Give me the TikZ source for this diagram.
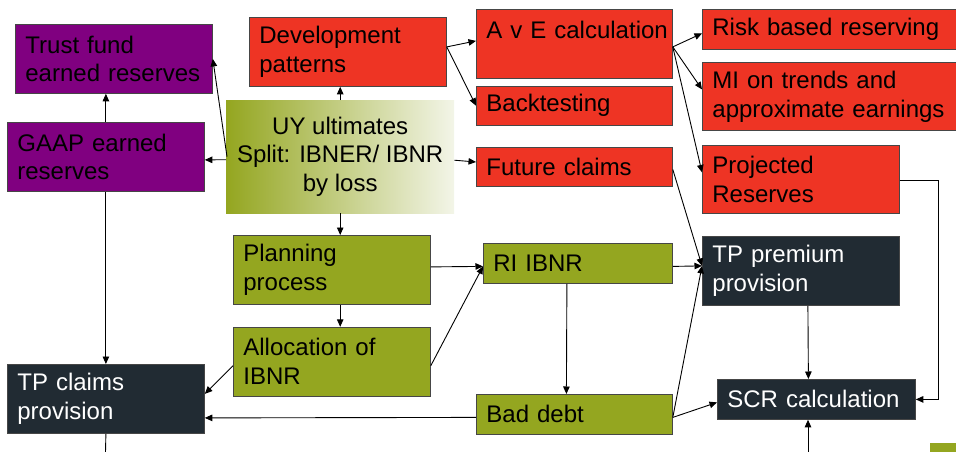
\documentclass[tikz,border=0pt]{standalone}
\usepackage{fontspec}
\setmainfont{Liberation Sans}
\usetikzlibrary{arrows.meta, positioning, calc}

\definecolor{gaappurple}{RGB}{128,0,128}
\definecolor{resred}{RGB}{238,52,36}
\definecolor{planolive}{RGB}{148,166,32}
\definecolor{tpnavy}{RGB}{33,43,51}
\definecolor{edgegrey}{RGB}{70,70,70}
\definecolor{uycream}{RGB}{243,245,232}
\definecolor{uymid}{RGB}{222,226,190}

\begin{document}
\begin{tikzpicture}[x=1pt, y=-1pt,
        blk/.style={draw=edgegrey, line width=0.8pt, anchor=north west, inner xsep=10pt, inner ysep=2pt,
                    align=left, font=\fontsize{24}{28.8}\selectfont, minimum height=69pt, text width=177pt},
        purp/.style={blk, fill=gaappurple},
        redb/.style={blk, fill=resred},
        oliv/.style={blk, fill=planolive},
        navy/.style={blk, fill=tpnavy, text=white},
        flow/.style={-{Triangle[length=7.5pt,width=6.5pt]}, line width=0.9pt}]
        \useasboundingbox (0,0) rectangle (956,452);

        \node (uy) [anchor=north west, minimum width=228pt, minimum height=113pt, inner sep=0pt,
                    left color=planolive, middle color=uymid, right color=uycream, align=center,
                    font=\fontsize{24}{28.8}\selectfont] at (226,100) {UY ultimates\\Split: IBNER/ IBNR\\by loss};
        \node (trust) [purp] at (15,24) {Trust fund\\earned reserves};
        \node (gaap) [purp] at (7,122) {GAAP earned\\reserves};
        \node (dev) [redb] at (249,17) {Development\\patterns};
        \node (ave) [redb, text width=176pt] at (476,9) {\mbox{A v E calculation}\\\mbox{}};
        \node (back) [redb, text width=176pt, minimum height=39pt, below=7pt of ave.south west, anchor=north west] {Backtesting};
        \node (future) [redb, text width=176pt, minimum height=39pt, below=21pt of back.south west, anchor=north west] {Future claims};
        \node (risk) [redb, text width=240pt, minimum height=40pt] at (702,9) {Risk based reserving};
        \node (mi) [redb, text width=240pt, minimum height=68pt] at (702,62) {MI on trends and\\approximate earnings};
        \node (proj) [redb, minimum height=68pt] at (702,145) {Projected\\Reserves};
        \node (plan) [oliv] at (233,235) {Planning\\process};
        \node (alloc) [oliv, below=22pt of plan.south west, anchor=north west] {Allocation of\\IBNR};
        \node (ri) [oliv, text width=169pt, minimum height=40pt] at (483,243) {RI IBNR};
        \node (bad) [oliv, text width=176pt, minimum height=40pt] at (476,394) {Bad debt};
        \node (tpprem) [navy] at (702,236) {TP premium\\provision};
        \node (tpclaim) [navy] at (7,364) {TP claims\\provision};
        \node (scr) [navy, text width=178pt, minimum height=40pt] at (717,379) {SCR calculation};

        \coordinate (clmout) at (105.5,452);
        \coordinate (scrin) at (808,452);

        % from the ultimates
        \draw [flow] (uy.north) -- (uy.north |- dev.south);
        \draw [flow] ($(uy.west)+(0,3)$) -- ($(gaap.east)+(0,3)$);
        \draw [flow] ($(uy.west)+(1,0)$) -- (trust.east);
        \draw [flow] ($(uy.east)+(0,3.5)$) -- ($(future.west)+(0,-4.5)$);
        \draw [flow] (uy.south) -- (uy.south |- plan.north);

        % earned reserves and claims provision
        \draw [flow] (gaap.north) -- (gaap.north |- trust.south);
        \draw [flow] (gaap.south) -- (tpclaim.north);
        \draw [line width=0.9pt] (tpclaim.south) -- (clmout);

        % reserving
        \draw [flow] ($(dev.east)+(0,-5)$) -- ($(ave.west)+(0,-3)$);
        \draw [flow] ($(dev.east)+(0,-5)$) -- (back.west);
        \draw [flow] ($(ave.east)+(0,3)$) -- ($(risk.west)+(0,4)$);
        \draw [flow] ($(ave.east)+(0,3)$) -- ($(mi.west)+(0,-7)$);
        \draw [flow] ($(ave.east)+(0,3)$) -- ($(proj.west)+(0,-7)$);
        \draw [flow] ($(future.east)+(0,3)$) -- ($(tpprem.west)+(0,-5)$);
        \draw [flow] ($(proj.east)+(0,1)$) -- ++(39,0) |- (scr.east);

        % planning
        \draw [flow] ($(plan.east)+(0,-3)$) -- ($(ri.west)+(0,3)$);
        \draw [flow] ($(alloc.east)+(0,4)$) -- ($(ri.west)+(0,3)$);
        \draw [flow] (plan.south -| uy.south) -- (alloc.north -| uy.south);
        \draw [flow] ($(alloc.west)+(0,4)$) -- ($(tpclaim.east)+(0,-5)$);
        \draw [flow] ($(ri.east)+(0,3)$) -- ($(tpprem.west)+(0,-5)$);
        \draw [flow] ($(ri.south)+(-11,0)$) -- ($(bad.north)+(-8,0)$);

        % bad debt and SCR
        \draw [flow] ($(bad.west)+(0,3)$) -- ($(tpclaim.east)+(0,19)$);
        \draw [flow] ($(bad.east)+(0,3)$) -- ($(tpprem.west)+(0,-5)$);
        \draw [flow] ($(bad.east)+(0,3)$) -- ($(scr.west)+(0,3)$);
        \draw [flow] ($(tpprem.south)+(7,0)$) -- ($(scr.north)+(-8,0)$);
        \draw [flow] (scrin) -- (scrin |- scr.south);

        \fill [planolive] (930,443) rectangle (960,455);
\end{tikzpicture}
\end{document}
